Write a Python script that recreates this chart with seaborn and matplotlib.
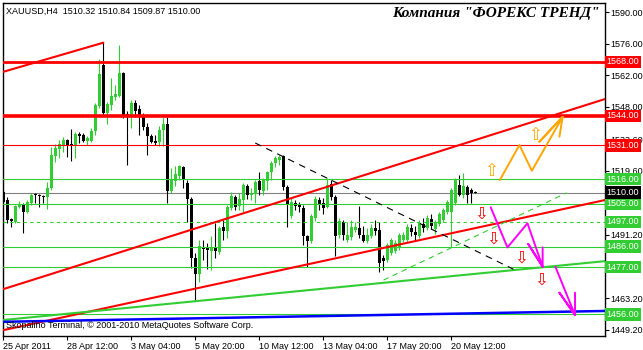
import numpy as np
import pandas as pd
import matplotlib
matplotlib.use("Agg")
import matplotlib.pyplot as plt
import seaborn as sns

# XAUUSD H4 candles
opens = [1510.2, 1506.7, 1498.3, 1496.9, 1503.6, 1504.5, 1501.4, 1505.4, 1509.4, 1508.9,
         1508.5, 1508.0, 1512.0, 1526.2, 1529.3, 1531.1, 1533.3, 1531.5, 1531.1, 1536.0,
         1535.5, 1532.9, 1532.9, 1537.3, 1548.4, 1566.6, 1545.3, 1548.8, 1552.4, 1552.8,
         1563.0, 1544.8, 1544.4, 1549.7, 1547.1, 1543.5, 1539.1, 1535.1, 1532.9, 1532.4,
         1537.8, 1540.4, 1510.7, 1515.1, 1517.3, 1521.3, 1514.2, 1507.1, 1481.0, 1473.9,
         1485.9, 1485.4, 1484.1, 1485.4, 1483.6, 1494.7, 1493.0, 1503.2, 1508.0, 1504.0,
         1506.7, 1512.9, 1508.9, 1509.4, 1515.1, 1510.7, 1515.1, 1519.1, 1523.1, 1524.4,
         1526.2, 1512.5, 1499.6, 1505.4, 1504.5, 1503.2, 1490.7, 1488.5, 1498.7, 1506.7,
         1505.4, 1503.6, 1513.8, 1508.0, 1491.2, 1496.9, 1489.0, 1490.3, 1493.4, 1494.3,
         1491.2, 1488.5, 1490.7, 1494.3, 1493.4, 1481.0, 1480.1, 1483.2, 1484.1, 1485.4,
         1489.0, 1489.0, 1494.3, 1492.5, 1490.7, 1496.1, 1494.3, 1498.3, 1493.8, 1496.1,
         1497.8, 1501.4, 1501.4, 1505.4, 1513.4, 1508.9, 1512.5, 1511.1, 1510.32]
highs = [1511.1, 1508.0, 1498.7, 1504.5, 1506.3, 1505.4, 1506.7, 1509.8, 1509.8, 1509.4,
         1508.9, 1514.7, 1530.2, 1531.5, 1533.3, 1534.6, 1533.8, 1538.2, 1536.9, 1536.9,
         1536.4, 1535.1, 1538.6, 1549.7, 1569.2, 1576.8, 1550.2, 1560.8, 1557.7, 1575.4,
         1563.5, 1546.2, 1551.0, 1551.0, 1548.8, 1545.3, 1540.9, 1536.0, 1535.5, 1539.5,
         1543.5, 1543.5, 1520.9, 1521.8, 1522.2, 1521.8, 1515.6, 1508.0, 1483.2, 1489.0,
         1489.0, 1487.6, 1490.7, 1496.5, 1495.2, 1497.8, 1504.5, 1510.3, 1508.9, 1509.8,
         1514.2, 1513.8, 1512.0, 1515.6, 1519.1, 1516.5, 1519.6, 1524.0, 1526.2, 1526.7,
         1526.7, 1513.4, 1508.0, 1506.7, 1505.8, 1504.5, 1491.2, 1500.5, 1508.5, 1508.0,
         1507.6, 1516.5, 1515.6, 1508.9, 1498.7, 1497.8, 1496.9, 1497.8, 1496.9, 1504.0,
         1495.2, 1494.3, 1496.1, 1497.8, 1496.9, 1482.3, 1487.6, 1489.9, 1489.0, 1492.1,
         1492.5, 1496.1, 1496.1, 1495.2, 1497.8, 1498.7, 1500.0, 1500.5, 1497.8, 1501.4,
         1503.2, 1506.7, 1512.0, 1516.5, 1517.8, 1518.7, 1513.4, 1512.0, 1510.84]
lows = [1504.5, 1496.5, 1494.7, 1496.5, 1503.2, 1492.1, 1500.9, 1504.5, 1505.4, 1503.6,
        1505.4, 1502.7, 1511.1, 1523.6, 1525.3, 1528.0, 1525.8, 1524.0, 1525.3, 1532.0,
        1532.4, 1531.1, 1532.4, 1535.5, 1547.5, 1544.4, 1540.4, 1546.6, 1551.0, 1552.4,
        1543.1, 1522.2, 1538.6, 1543.5, 1535.5, 1537.8, 1526.7, 1532.0, 1531.1, 1530.7,
        1530.7, 1505.4, 1509.8, 1512.9, 1515.6, 1512.0, 1496.9, 1476.5, 1462.3, 1470.3,
        1480.1, 1476.1, 1475.7, 1481.0, 1482.8, 1489.0, 1489.9, 1502.3, 1502.3, 1502.3,
        1501.4, 1507.1, 1506.7, 1505.4, 1508.9, 1508.9, 1511.1, 1515.6, 1521.3, 1522.2,
        1511.1, 1494.7, 1498.7, 1502.3, 1501.4, 1486.7, 1477.0, 1487.6, 1497.4, 1502.3,
        1500.5, 1503.2, 1506.7, 1481.9, 1489.9, 1489.0, 1488.1, 1489.0, 1492.5, 1489.9,
        1488.1, 1487.6, 1489.9, 1491.2, 1474.8, 1475.7, 1479.2, 1482.3, 1483.2, 1484.5,
        1488.1, 1488.1, 1490.7, 1489.0, 1489.9, 1492.5, 1493.4, 1493.8, 1491.6, 1495.2,
        1496.9, 1500.5, 1485.9, 1504.5, 1508.5, 1507.6, 1505.4, 1505.4, 1509.87]
closes = [1505.8, 1497.8, 1497.4, 1504.0, 1504.9, 1501.4, 1505.8, 1508.9, 1508.9, 1508.5,
          1508.0, 1512.0, 1526.7, 1529.8, 1531.5, 1533.3, 1531.1, 1531.1, 1536.0, 1535.1,
          1532.9, 1534.2, 1537.3, 1548.8, 1562.6, 1545.3, 1549.3, 1552.8, 1553.7, 1563.0,
          1544.4, 1544.0, 1549.7, 1546.2, 1544.4, 1539.1, 1535.1, 1532.4, 1532.0, 1537.8,
          1540.4, 1510.7, 1516.0, 1518.2, 1521.8, 1516.0, 1507.1, 1481.0, 1473.9, 1486.3,
          1485.0, 1484.5, 1485.4, 1484.1, 1494.3, 1493.0, 1503.6, 1508.5, 1503.6, 1507.1,
          1513.4, 1508.9, 1509.8, 1514.7, 1511.1, 1515.6, 1519.1, 1523.1, 1525.3, 1525.8,
          1512.5, 1504.9, 1505.8, 1504.0, 1503.6, 1490.7, 1488.5, 1499.6, 1507.1, 1504.9,
          1503.2, 1513.4, 1508.0, 1490.7, 1497.4, 1491.2, 1491.2, 1494.7, 1494.7, 1491.2,
          1488.5, 1491.2, 1494.3, 1493.0, 1478.8, 1479.6, 1486.7, 1489.0, 1487.6, 1491.2,
          1491.2, 1494.7, 1492.5, 1491.2, 1496.5, 1494.3, 1498.7, 1495.2, 1496.9, 1500.5,
          1502.3, 1505.8, 1511.1, 1515.6, 1508.9, 1512.9, 1508.9, 1509.8, 1510.00]

# horizontal levels
red_levels = [1568, 1544, 1531]
red_widths = [2.0, 2.6, 0.8]
green_levels = [1516, 1505, 1486, 1477, 1456]
dashed_level = 1497
last_price = 1510.00

# axis labels
date_ticks = [0, 16, 32, 48, 64, 80, 96, 112]
date_labels = ["25 Apr 2011", "28 Apr 12:00", "3 May 04:00", "5 May 20:00",
               "10 May 12:00", "13 May 04:00", "17 May 20:00", "20 May 12:00"]
price_ticks = [1590.0, 1576.0, 1562.0, 1548.0, 1533.6, 1519.6, 1505.6,
               1491.2, 1477.2, 1463.2, 1449.2]
# labels fully covered by the level boxes in the original
hidden_ticks = [1505.6, 1477.2]

# trend lines as (bar, price) end points
red_top_x, red_top_y = [0, 25], [1563.6, 1576.5]
red_up_x, red_up_y = [0, 150.5], [1467.2, 1551.5]
red_low_x, red_low_y = [0, 150.5], [1449.0, 1506.7]
green_tr_x, green_tr_y = [0, 150.5], [1453.5, 1479.6]
blue_x, blue_y = [0, 150.5], [1452.7, 1457.5]
black_dash_x, black_dash_y = [63, 127.6], [1532.0, 1476.0]
green_dash_x, green_dash_y = [95.1, 140.9], [1471.2, 1509.9]

# forecast paths
orange_x = [124.2, 129.1, 132.2, 139.9, 134.1, 139.9, 139.1]
orange_y = [1515.6, 1531.1, 1519.7, 1543.6, 1532.6, 1543.6, 1534.8]
magenta1_x = [121.9, 126.1, 131.1, 134.9, 131.3, 134.9, 134.9]
magenta1_y = [1503.5, 1485.7, 1496.4, 1477.1, 1487.2, 1477.1, 1485.7]
magenta2_x = [138.1, 143.0, 139.1, 143.0, 143.0]
magenta2_y = [1477.1, 1455.7, 1465.6, 1455.7, 1465.6]

up_arrows_x, up_arrows_y = [121.9, 133.0], [1519.7, 1535.5]
down_arrows_x = [119.5, 122.4, 129.5, 134.5]
down_arrows_y = [1500.8, 1489.7, 1481.3, 1471.2]

sns.set_theme(style="white")
plt.rcParams["font.family"] = ["Liberation Sans", "DejaVu Sans"]

LIME = "#32CD32"
df = pd.DataFrame({"o": opens, "h": highs, "l": lows, "c": closes})
df["bar"] = np.arange(len(df))
df["up"] = df["c"] >= df["o"]
colors = np.where(df["up"], LIME, "black")

fig = plt.figure(figsize=(6.43, 3.5), dpi=100)
ax = fig.add_axes([3 / 643, 1 - 336 / 350, 602 / 643, 333 / 350])
ax.set_facecolor("white")

# candles
ax.vlines(df["bar"], df["l"], df["h"], colors=colors, lw=0.8, zorder=2)
body = (df["c"] - df["o"]).abs().clip(lower=0.35)
ax.bar(df["bar"], body, bottom=df[["o", "c"]].min(axis=1), width=0.72,
       color=colors, linewidth=0, zorder=3)

# horizontal levels
for lv, w in zip(red_levels, red_widths):
    ax.axhline(lv, color="red", lw=w, zorder=4)
for lv in green_levels:
    ax.axhline(lv, color=LIME, lw=0.8, zorder=4)
ax.axhline(dashed_level, color=LIME, lw=0.8, ls=(0, (3, 3)), zorder=4)
ax.axhline(last_price, color="#808080", lw=0.8, zorder=1)

# trend lines
for xs, ys, col, w in [(red_top_x, red_top_y, "red", 1.5),
                       (red_up_x, red_up_y, "red", 1.5),
                       (red_low_x, red_low_y, "red", 1.5),
                       (green_tr_x, green_tr_y, LIME, 1.5),
                       (blue_x, blue_y, "#0000FF", 1.8)]:
    sns.lineplot(x=xs, y=ys, color=col, lw=w, ax=ax, zorder=5)
sns.lineplot(x=black_dash_x, y=black_dash_y, color="black", lw=0.8, ax=ax, zorder=5)
ax.lines[-1].set_linestyle((0, (6, 5)))
sns.lineplot(x=green_dash_x, y=green_dash_y, color=LIME, lw=0.8, ax=ax, zorder=5)
ax.lines[-1].set_linestyle((0, (5, 4)))

sns.lineplot(x=orange_x, y=orange_y, sort=False, estimator=None, color="#FFA500",
             lw=1.4, ax=ax, zorder=6)
sns.lineplot(x=magenta1_x, y=magenta1_y, sort=False, estimator=None, color="#FF00FF",
             lw=1.4, ax=ax, zorder=6)
sns.lineplot(x=magenta2_x, y=magenta2_y, sort=False, estimator=None, color="#FF00FF",
             lw=1.4, ax=ax, zorder=6)

for x, y in zip(up_arrows_x, up_arrows_y):
    ax.text(x, y, "\u21e7", family="DejaVu Sans", color="#FFA500", fontsize=12,
            ha="center", va="center", zorder=7)
for x, y in zip(down_arrows_x, down_arrows_y):
    ax.text(x, y, "\u21e9", family="DejaVu Sans", color="red", fontsize=12,
            ha="center", va="center", zorder=7)

ax.set_xlim(-0.1, 150.5)
ax.set_ylim(1446.4, 1594.1)

# axes style
for s in ax.spines.values():
    s.set_color("black")
    s.set_linewidth(1.0)
ax.yaxis.tick_right()
ax.set_yticks(price_ticks)
ax.set_yticklabels(["" if v in hidden_ticks else f"{v:.2f}" for v in price_ticks])
ax.set_xticks(date_ticks)
ax.set_xticklabels(date_labels, ha="left")
ax.tick_params(axis="y", direction="out", length=3, width=0.8, labelsize=6.5, pad=1,
               colors="black", right=True)
ax.tick_params(axis="x", direction="out", length=3, width=0.8, labelsize=6.5, pad=1,
               colors="black", bottom=True)
ax.grid(False)

# price boxes on the right axis
ytr = ax.get_yaxis_transform()
for lv in red_levels:
    ax.text(1.003, lv, f"{lv:.2f}", transform=ytr, color="white", fontsize=6.5,
            ha="left", va="center", clip_on=False, zorder=10,
            bbox=dict(boxstyle="square,pad=0.2", fc="red", ec="none"))
for lv in green_levels + [dashed_level]:
    ax.text(1.003, lv, f"{lv:.2f}", transform=ytr, color="white", fontsize=6.5,
            ha="left", va="center", clip_on=False, zorder=10,
            bbox=dict(boxstyle="square,pad=0.2", fc=LIME, ec="none"))
ax.text(1.003, last_price, f"{last_price:.2f}", transform=ytr, color="white",
        fontsize=6.5, ha="left", va="center", clip_on=False, zorder=11,
        bbox=dict(boxstyle="square,pad=0.2", fc="black", ec="none"))

# texts
fig.text(6 / 643, 1 - 11 / 350, "XAUUSD,H4  1510.32 1510.84 1509.87 1510.00",
         fontsize=6.5, color="black", va="center", ha="left")
fig.text(600 / 643, 1 - 13 / 350, "Компания \"ФОРЕКС ТРЕНД\"",
         family="Liberation Serif", fontweight="bold", fontstyle="italic",
         fontsize=11, color="black", va="center", ha="right")
fig.text(6 / 643, 1 - 325 / 350,
         "Skopalino Terminal, \u00a9 2001-2010 MetaQuotes Software Corp.",
         fontsize=6.5, color="black", va="center", ha="left")

fig.savefig("out.png", dpi=100, facecolor="white")
